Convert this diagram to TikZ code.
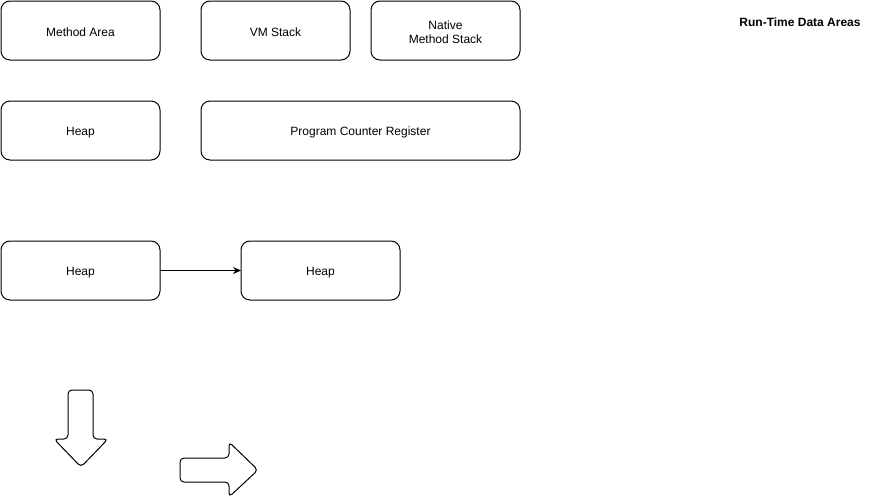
\documentclass[tikz,border=0pt]{standalone}
\usepackage{fontspec}
\setmainfont{Liberation Sans}
\usetikzlibrary{arrows.meta}
\begin{document}
\begin{tikzpicture}[x=1pt,y=-1pt,
  box/.style={draw=black,line width=1pt,rounded corners=9pt,fill=white},
  lbl/.style={font=\fontsize{12}{14}\selectfont,align=center},
  bigarrow/.style={draw=black,line width=1pt,rounded corners=4pt,fill=white}]
\useasboundingbox (0,0) rectangle (871,501);
\fill[white] (0,0) rectangle (871,501);
% boxes
\draw[box] (1,1) rectangle (160,60);
\node[lbl] (ma) at (80.5,32.3) {Method Area};
\draw[box] (201,1) rectangle (350,60);
\node[lbl] (vm) at (275.5,32.3) {VM Stack};
\draw[box] (371,1) rectangle (520,60);
\node[lbl] (nm) at (445.5,32) {Native\\Method Stack};
\draw[box] (1,101) rectangle (160,160);
\node[lbl] (h1) at (80.5,132.3) {Heap};
\draw[box] (201,101) rectangle (520,160);
\node[lbl] (pc) at (360.5,132.3) {Program Counter Register};
\draw[box] (1,241) rectangle (160,300);
\node[lbl] (h2) at (80.5,272.3) {Heap};
\draw[box] (241,241) rectangle (400,300);
\node[lbl] (h3) at (320.5,272.3) {Heap};
\coordinate (a1) at (160,270.5);
\coordinate (a2) at (241,270.5);
\draw[line width=1pt,-{Stealth[length=8pt,width=7pt]}] (a1) -- (a2);
% title
\node[font=\fontsize{12}{14}\selectfont\bfseries] (title) at (800,22) {Run-Time Data Areas};
% down arrow
\draw[bigarrow] (68,390) -- (93,390) -- (93,439) -- (108,439) -- (81,467) -- (54,439) -- (68,439) -- cycle;
% right arrow
\draw[bigarrow] (180,458) -- (229,458) -- (229,442) -- (258,470) -- (229,497) -- (229,482) -- (180,482) -- cycle;
\end{tikzpicture}
\end{document}
